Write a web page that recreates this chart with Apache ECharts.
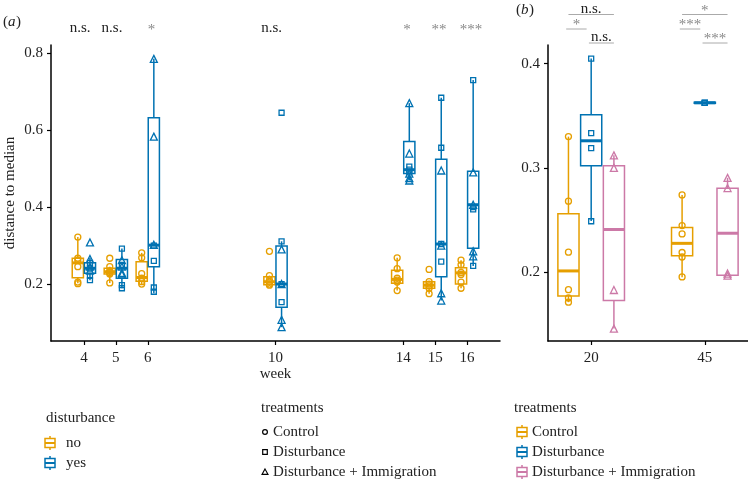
<!DOCTYPE html>
<html><head><meta charset="utf-8">
<script src="https://cdn.jsdelivr.net/npm/echarts@6/dist/echarts.min.js"></script>
<style>html,body{margin:0;padding:0;background:#fff}#c{width:748px;height:481px}</style>
</head><body><div id="c"></div>
<script>
// ================= DATA =================
// Panel (a)
const weeksA = [4, 5, 6, 10, 14, 15, 16];
// box stats per week: [lower whisker, Q1, median, Q3, upper whisker]
const boxNoA = [
  [0.202, 0.216, 0.255, 0.267, 0.322],
  [0.203, 0.226, 0.232, 0.241, 0.245],
  [0.200, 0.207, 0.217, 0.258, 0.281],
  [0.195, 0.198, 0.206, 0.219, 0.222],
  [0.183, 0.202, 0.212, 0.236, 0.268],
  [0.175, 0.189, 0.197, 0.206, 0.206],
  [0.189, 0.200, 0.229, 0.242, 0.262]
];
const boxYesA = [
  [0.210, 0.228, 0.241, 0.255, 0.268],
  [0.189, 0.215, 0.241, 0.264, 0.292],
  [0.176, 0.245, 0.301, 0.632, 0.785],
  [0.088, 0.140, 0.200, 0.299, 0.311],
  [0.469, 0.487, 0.497, 0.570, 0.670],
  [0.157, 0.219, 0.304, 0.524, 0.684],
  [0.247, 0.293, 0.406, 0.493, 0.730]
];
// individual replicates per week
const ptsControlA = [
  [0.322, 0.267, 0.262, 0.245, 0.205, 0.201],
  [0.267, 0.245, 0.235, 0.230, 0.226, 0.203],
  [0.281, 0.268, 0.227, 0.215, 0.206, 0.200],
  [0.285, 0.222, 0.210, 0.205, 0.200, 0.197],
  [0.268, 0.240, 0.215, 0.210, 0.205, 0.183],
  [0.238, 0.206, 0.200, 0.195, 0.189, 0.175],
  [0.262, 0.250, 0.230, 0.225, 0.205, 0.189]
];
const ptsDistA = [
  [0.255, 0.240, 0.221, 0.210],
  [0.292, 0.250, 0.197, 0.189],
  [0.300, 0.260, 0.191, 0.180],
  [0.645, 0.311, 0.200, 0.153],
  [0.505, 0.497, 0.490],
  [0.684, 0.554, 0.304, 0.258],
  [0.730, 0.400, 0.394, 0.247]
];
const ptsDistImmA = [
  [0.308, 0.265, 0.245, 0.235],
  [0.262, 0.245, 0.229, 0.225],
  [0.785, 0.583, 0.302],
  [0.290, 0.200, 0.107, 0.088],
  [0.670, 0.539, 0.487, 0.475, 0.469],
  [0.495, 0.300, 0.176, 0.157],
  [0.490, 0.406, 0.285, 0.272]
];
const sigA = ['n.s.', 'n.s.', '*', 'n.s.', '*', '**', '***'];
const yTicksA = [0.2, 0.4, 0.6, 0.8];

// Panel (b)
const weeksB = ['20', '45'];
const boxControlB = [[0.171, 0.177, 0.201, 0.256, 0.330], [0.195, 0.2155, 0.2275, 0.2427, 0.274]];
const boxDistB    = [[0.249, 0.302, 0.326, 0.351, 0.405], [0.362, 0.362, 0.3625, 0.363, 0.363]];
const boxDistImmB = [[0.1456, 0.1727, 0.2408, 0.302, 0.312], [0.1965, 0.1968, 0.2372, 0.2805, 0.2904]];
const ptsControlB = [[0.330, 0.268, 0.219, 0.183, 0.175, 0.171], [0.274, 0.2446, 0.2365, 0.2187, 0.2144, 0.1952]];
const ptsDistB    = [[0.405, 0.3334, 0.319, 0.2487], [0.3625, 0.3625, 0.3625, 0.3625]];
const ptsDistImmB = [[0.312, 0.300, 0.1827, 0.1456], [0.2904, 0.2806, 0.1985, 0.1965]];
// comparisons per week: [Control vs D+I, Control vs Disturbance, Disturbance vs D+I]
const sigB = [['n.s.', '*', 'n.s.'], ['*', '***', '***']];
const yTicksB = [0.2, 0.3, 0.4];

// ================= STYLE =================
const C_NO = '#E69F00', C_YES = '#0072B2', C_PINK = '#CC79A7';
const FONT = '"Liberation Serif", "DejaVu Serif", serif';
const FS = 15;
const TXT = '#222';
const dodgeA = 0.19, halfWA = 0.175;
const offB = [-0.2, 0, 0.2], halfWB = 0.093;

function boxRender(color, halfW, dx) {
  return function (params, api) {
    const x = api.value(0) + dx;
    const lo = api.value(1), q1 = api.value(2), md = api.value(3), q3 = api.value(4), hi = api.value(5);
    const tl = api.coord([x - halfW, q3]);
    const br = api.coord([x + halfW, q1]);
    const pHi = api.coord([x, hi]), pLo = api.coord([x, lo]);
    const pQ3 = api.coord([x, q3]), pQ1 = api.coord([x, q1]), pMd = api.coord([x, md]);
    const ls = { stroke: color, lineWidth: 1.5 };
    return {
      type: 'group', children: [
        { type: 'line', shape: { x1: pHi[0], y1: pHi[1], x2: pQ3[0], y2: pQ3[1] }, style: ls },
        { type: 'line', shape: { x1: pLo[0], y1: pLo[1], x2: pQ1[0], y2: pQ1[1] }, style: ls },
        { type: 'rect', shape: { x: tl[0], y: tl[1], width: br[0] - tl[0], height: Math.max(br[1] - tl[1], 0.5) },
          style: { stroke: color, lineWidth: 1.5, fill: 'rgba(255,255,255,0)' } },
        { type: 'line', shape: { x1: tl[0], y1: pMd[1], x2: br[0], y2: pMd[1] }, style: { stroke: color, lineWidth: 3 } }
      ]
    };
  };
}

function boxSeries(name, stats, xs, color, halfW, dx, axisIdx) {
  return {
    name, type: 'custom', xAxisIndex: axisIdx, yAxisIndex: axisIdx,
    renderItem: boxRender(color, halfW, dx),
    encode: { x: 0, y: [1, 2, 3, 4, 5] },
    data: stats.map((s, i) => [xs[i]].concat(s)), z: 2
  };
}

function ptSeries(name, pts, xs, dx, symbol, size, color, axisIdx) {
  const data = [];
  pts.forEach((arr, i) => arr.forEach(v => data.push([xs[i] + dx, v])));
  return {
    name, type: 'scatter', xAxisIndex: axisIdx, yAxisIndex: axisIdx, symbol, symbolSize: size,
    itemStyle: { color: 'rgba(255,255,255,0)', borderColor: color, borderWidth: 1.3, opacity: 1 },
    emphasis: { disabled: true }, data, z: 3
  };
}

const xsA = weeksA;
const xsB = weeksB.map((_, i) => i + 1);

const series = [
  boxSeries('no', boxNoA, xsA, C_NO, halfWA, -dodgeA, 0),
  boxSeries('yes', boxYesA, xsA, C_YES, halfWA, dodgeA, 0),
  ptSeries('Control (a)', ptsControlA, xsA, -dodgeA, 'circle', 6, C_NO, 0),
  ptSeries('Disturbance (a)', ptsDistA, xsA, dodgeA, 'rect', 5, C_YES, 0),
  ptSeries('Disturbance + Immigration (a)', ptsDistImmA, xsA, dodgeA, 'triangle', 7, C_YES, 0),
  boxSeries('Control', boxControlB, xsB, C_NO, halfWB, offB[0], 1),
  boxSeries('Disturbance', boxDistB, xsB, C_YES, halfWB, offB[1], 1),
  boxSeries('Disturbance + Immigration', boxDistImmB, xsB, C_PINK, halfWB, offB[2], 1),
  ptSeries('Control pts (b)', ptsControlB, xsB, offB[0], 'circle', 6, C_NO, 1),
  ptSeries('Disturbance pts (b)', ptsDistB, xsB, offB[1], 'rect', 5, C_YES, 1),
  ptSeries('D+I pts (b)', ptsDistImmB, xsB, offB[2], 'triangle', 7, C_PINK, 1),
  // significance labels, panel (a)
  {
    type: 'custom', xAxisIndex: 0, yAxisIndex: 0, clip: false, silent: true,
    data: weeksA.map((w, i) => [w, i]),
    renderItem: function (params, api) {
      const i = api.value(1);
      const lab = sigA[i];
      const star = lab !== 'n.s.';
      const p = api.coord([api.value(0) + (star ? 0.12 : -0.12), 0.821]);
      return {
        type: 'text', x: p[0], y: p[1] - (star ? 15 : 17),
        style: { text: lab, fill: star ? '#888' : TXT, fontFamily: FONT, fontSize: FS,
          textAlign: 'center', align: 'center', textVerticalAlign: 'middle', verticalAlign: 'middle' }
      };
    }
  },
  // significance brackets, panel (b)
  {
    type: 'custom', xAxisIndex: 1, yAxisIndex: 1, clip: false, silent: true,
    data: (function () {
      const d = [];
      sigB.forEach((arr, g) => arr.forEach((lab, t) => d.push([g + 1, t, g])));
      return d;
    })(),
    renderItem: function (params, api) {
      const gx = api.value(0), t = api.value(1), g = api.value(2);
      const lab = sigB[g][t];
      const pairs = [[0, 2], [0, 1], [1, 2]];
      const rise = [30.5, 16, 2];
      const insetL = [0.02, 0.0, 0.0], insetR = [0.0, 0.04, 0.0];
      const a = api.coord([gx + offB[pairs[t][0]] - 0.02 + insetL[t], 0.418]);
      const b = api.coord([gx + offB[pairs[t][1]] - insetR[t], 0.418]);
      const y = a[1] - rise[t];
      const star = lab !== 'n.s.';
      return {
        type: 'group', children: [
          { type: 'line', shape: { x1: a[0], y1: y, x2: b[0], y2: y }, style: { stroke: '#aaa', lineWidth: 1 } },
          { type: 'text', x: (a[0] + b[0]) / 2, y: y - (star ? 3.5 : 5.5),
            style: { text: lab, fill: star ? '#888' : TXT, fontFamily: FONT, fontSize: FS,
              textAlign: 'center', align: 'center', textVerticalAlign: 'middle', verticalAlign: 'middle' } }
        ]
      };
    }
  }
];

const axisText = { color: TXT, fontFamily: FONT, fontSize: FS };
const axisLine = { show: true, onZero: false, lineStyle: { color: '#000', width: 1.5 } };

const option = {
  backgroundColor: '#fff',
  animation: false,
  textStyle: { fontFamily: FONT },
  grid: [
    { left: 51, top: 45, width: 449, height: 296, containLabel: false, outerBoundsMode: 'none' },
    { left: 548, top: 45, width: 200, height: 296, containLabel: false, outerBoundsMode: 'none' }
  ],
  xAxis: [
    { gridIndex: 0, type: 'value', min: 2.97, max: 17.03, axisLine,
      axisTick: { show: true, customValues: weeksA, length: 4, lineStyle: { color: '#000', width: 1.2 } },
      axisLabel: { customValues: weeksA, formatter: v => String(Math.round(v)), margin: 10, ...axisText },
      splitLine: { show: false },
      name: 'week', nameLocation: 'middle', nameGap: 26, nameMoveOverlap: false, nameTextStyle: axisText },
    { gridIndex: 1, type: 'value', min: 0.62, max: 2.38, axisLine,
      axisTick: { show: true, customValues: xsB, length: 4, lineStyle: { color: '#000', width: 1.2 } },
      axisLabel: { customValues: xsB, formatter: v => weeksB[Math.round(v) - 1], margin: 10, ...axisText },
      splitLine: { show: false } }
  ],
  yAxis: [
    { gridIndex: 0, type: 'value', min: 0.052, max: 0.821, axisLine,
      axisTick: { show: true, customValues: yTicksA, length: 4, lineStyle: { color: '#000', width: 1.2 } },
      axisLabel: { customValues: yTicksA, formatter: v => v.toFixed(1), margin: 8, ...axisText },
      splitLine: { show: false },
      name: 'distance to median', nameLocation: 'middle', nameGap: 33, nameMoveOverlap: false, nameTextStyle: axisText },
    { gridIndex: 1, type: 'value', min: 0.1337, max: 0.418, axisLine,
      axisTick: { show: true, customValues: yTicksB, length: 4, lineStyle: { color: '#000', width: 1.2 } },
      axisLabel: { customValues: yTicksB, formatter: v => v.toFixed(1), margin: 8, ...axisText },
      splitLine: { show: false } }
  ],
  series,
  graphic: []
};

// ---- panel tags & legends (graphic) ----
function txt(x, y, text, extra) {
  return Object.assign({ type: 'text', x, y, silent: true,
    style: Object.assign({ text, fill: TXT, fontFamily: FONT, fontSize: FS, textVerticalAlign: 'middle', verticalAlign: 'middle' }, extra || {}) });
}
function boxGlyph(x, y, color) {
  return { type: 'group', x, y, silent: true, children: [
    { type: 'line', shape: { x1: 0, y1: -7, x2: 0, y2: 7 }, style: { stroke: color, lineWidth: 1.5 } },
    { type: 'rect', shape: { x: -5, y: -4.5, width: 10, height: 9 }, style: { stroke: color, lineWidth: 1.5, fill: '#fff' } },
    { type: 'line', shape: { x1: -5, y1: 0, x2: 5, y2: 0 }, style: { stroke: color, lineWidth: 2 } }
  ]};
}
const g = option.graphic;
g.push(txt(3, 22, '('));
g.push(txt(8, 22, 'a', { fontStyle: 'italic' }));
g.push(txt(16, 22, ')'));
g.push(txt(516, 10, '('));
g.push(txt(521, 10, 'b', { fontStyle: 'italic' }));
g.push(txt(529, 10, ')'));
// legend 1: disturbance
g.push(txt(46, 418, 'disturbance'));
g.push(boxGlyph(50, 443, C_NO)); g.push(txt(66, 443, 'no'));
g.push(boxGlyph(50, 463, C_YES)); g.push(txt(66, 463, 'yes'));
// legend 2: treatments (shapes)
g.push(txt(261, 408, 'treatments'));
const ly = [432, 452, 472];
const lnames = ['Control', 'Disturbance', 'Disturbance + Immigration'];
g.push({ type: 'circle', shape: { cx: 265, cy: ly[0], r: 2.4 }, style: { stroke: '#000', lineWidth: 1.2, fill: '#fff' }, silent: true });
g.push({ type: 'rect', shape: { x: 262.7, y: ly[1] - 2.3, width: 4.6, height: 4.6 }, style: { stroke: '#000', lineWidth: 1.2, fill: '#fff' }, silent: true });
g.push({ type: 'polygon', shape: { points: [[265, ly[2] - 3], [268, ly[2] + 2.4], [262, ly[2] + 2.4]] }, style: { stroke: '#000', lineWidth: 1.1, fill: '#fff' }, silent: true });
lnames.forEach((n, i) => g.push(txt(273, ly[i], n)));
// legend 3: treatments (colours)
g.push(txt(514, 408, 'treatments'));
[C_NO, C_YES, C_PINK].forEach((c, i) => { g.push(boxGlyph(522, ly[i], c)); g.push(txt(532, ly[i], lnames[i])); });

const chart = echarts.init(document.getElementById('c'), null, { renderer: 'canvas' });
chart.setOption(option);
</script>
</body></html>
